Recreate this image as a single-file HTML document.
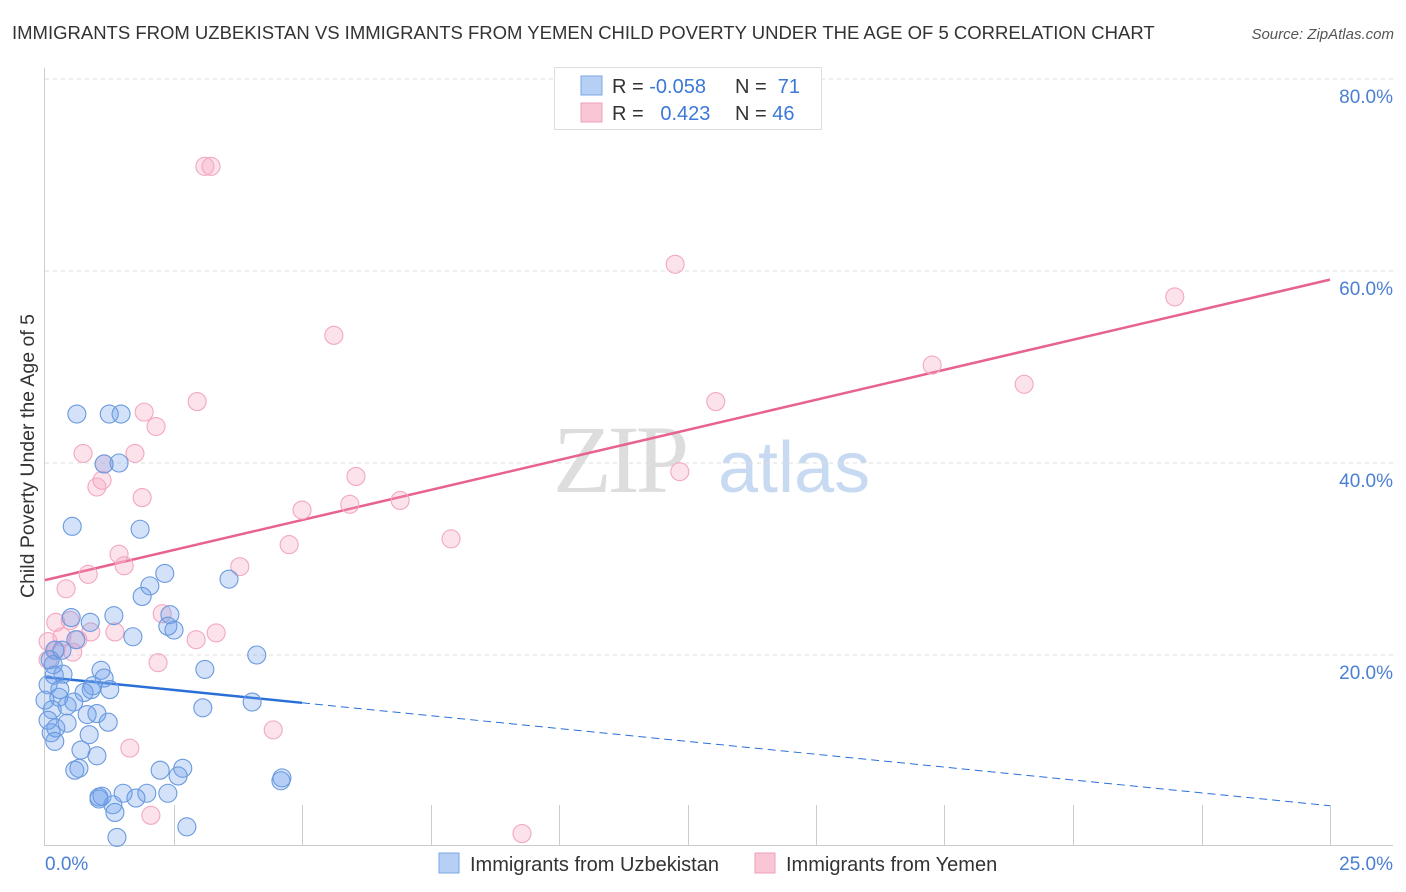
<!DOCTYPE html>
<html><head><meta charset="utf-8"><style>
body{margin:0;background:#fff;font-family:"Liberation Sans",sans-serif;}
svg{display:block}
</style></head><body>
<svg id="chart" width="1406" height="892" xmlns="http://www.w3.org/2000/svg">
<text x="12" y="39" font-size="18.5" fill="#333">IMMIGRANTS FROM UZBEKISTAN VS IMMIGRANTS FROM YEMEN CHILD POVERTY UNDER THE AGE OF 5 CORRELATION CHART</text>
<text x="1394" y="39" font-size="15" fill="#555" font-style="italic" text-anchor="end">Source: ZipAtlas.com</text>
<g>
<text x="553" y="492" font-size="96" font-family="Liberation Serif,serif" fill="#ddd" letter-spacing="-4">ZIP</text>
<text x="718" y="492" font-size="72" fill="#c8daf2">atlas</text>
</g>
<g id="grid"></g>
<g id="axes"></g>
<g id="lines"></g>
<g id="pts"></g>
<text transform="translate(34,456) rotate(-90)" font-size="19.5" fill="#333" text-anchor="middle">Child Poverty Under the Age of 5</text>
<text x="45" y="870" font-size="19" fill="#4a7fd4">0.0%</text>
<text x="1393" y="870" font-size="19" fill="#4a7fd4" text-anchor="end">25.0%</text>
<g>
<rect x="554.5" y="67.5" width="267" height="62" fill="#fff" stroke="#ddd"/>
<rect x="581" y="76" width="21" height="19" fill="#b6d0f5" stroke="#7ba6e3"/>
<rect x="581" y="103" width="21" height="19" fill="#f9c6d5" stroke="#f0a0bb"/>
<text x="612" y="93" font-size="20" fill="#333">R = <tspan fill="#3c78d8">-0.058</tspan></text>
<text x="735" y="93" font-size="20" fill="#333">N = <tspan fill="#3c78d8">&#160;71</tspan></text>
<text x="612" y="120" font-size="20" fill="#333">R = <tspan fill="#3c78d8">&#160; 0.423</tspan></text>
<text x="735" y="120" font-size="20" fill="#333">N = <tspan fill="#3c78d8">46</tspan></text>
</g>
<g>
<rect x="439" y="853" width="20" height="20" fill="#b6d0f5" stroke="#7ba6e3"/>
<text x="470" y="871" font-size="20" fill="#333">Immigrants from Uzbekistan</text>
<rect x="755" y="853" width="20" height="20" fill="#f9c6d5" stroke="#f0a0bb"/>
<text x="786" y="871" font-size="20" fill="#333">Immigrants from Yemen</text>
</g>
</svg>
<script>
const yTicks=[20,40,60,80];
const blueX=[0.62,1.25,1.48,1.15,1.44,0.53,1.85,2.33,2.04,1.89,3.58,1.34,0.51,0.88,2.43,2.39,2.51,1.71,0.60,4.12,3.11,1.09,1.15,0.16,0.18,0.35,0.06,0.93,0.90,0.76,0.27,0.56,0.43,3.07,4.03,1.01,0.82,1.23,0.43,0.21,0.12,0.86,0.19,0.70,1.01,0.58,0.66,2.24,2.68,2.59,4.61,4.59,1.52,1.98,2.39,1.05,1.11,1.05,1.77,1.32,1.36,2.76,1.40,0.14,0.29,0.06,0.19,0.10,0.33,0.0,1.26];
const blueY=[45.1,45.1,45.1,39.9,40.0,33.4,33.1,28.5,27.2,26.1,27.9,24.1,23.9,23.4,24.2,23.0,22.6,21.9,21.6,20.0,18.5,18.4,17.6,19.0,17.9,18.0,16.9,16.8,16.4,16.1,15.6,15.1,14.7,14.5,15.1,13.9,13.8,13.0,12.9,12.4,11.9,11.7,11.0,10.1,9.5,8.0,8.2,8.0,8.2,7.4,7.2,6.9,5.6,5.6,5.6,5.2,5.3,5.0,5.1,4.4,3.6,2.1,1.0,14.3,16.4,13.2,20.5,19.5,20.5,15.3,16.4];
const pinkX=[3.23,3.11,12.26,21.98,5.62,17.26,19.05,2.96,13.05,1.93,2.16,0.74,1.75,1.15,1.11,1.01,1.89,6.05,5.93,6.91,5.00,12.35,7.90,4.75,1.44,1.54,3.79,0.84,0.41,2.28,0.49,0.21,0.89,1.36,3.33,2.94,0.64,0.33,0.06,0.54,0.21,0.06,2.20,4.44,1.65,2.06,9.28];
const pinkY=[70.9,70.9,60.7,57.3,53.3,50.2,48.2,46.4,46.4,45.3,43.8,41.0,41.0,39.9,38.2,37.5,36.4,38.6,35.7,36.1,35.1,39.1,32.1,31.5,30.5,29.3,29.2,28.4,26.9,24.3,23.6,23.4,22.4,22.4,22.3,21.6,21.6,21.9,21.4,20.3,20.5,19.5,19.2,12.2,10.3,3.3,1.4];
const blueTrend=[17.7,4.3];
const pinkTrend=[27.8,59.1];
const xMax=25;
const NS="http://www.w3.org/2000/svg";
const X0=45,X1=1330,YB=847,PX=192/20;
function sx(v){return X0+v/xMax*(X1-X0);}
function sy(v){return YB-v*PX;}
function mk(t,a,p){const e=document.createElementNS(NS,t);for(const k in a)e.setAttribute(k,a[k]);p.appendChild(e);return e;}
const grid=document.getElementById('grid');
yTicks.forEach(t=>{
  const l=mk('line',{x1:45,x2:1393,y1:sy(t),y2:sy(t),stroke:'#ddd','stroke-dasharray':'4,4'},grid);
  
  
  const tx=mk('text',{x:1393,y:sy(t)+24,'font-size':19,fill:'#4a7fd4','text-anchor':'end'},grid);
  tx.textContent=t.toFixed(1)+'%';
  
  
});
const axes=document.getElementById('axes');
mk('line',{x1:44.5,x2:44.5,y1:68,y2:846,stroke:'#ccc'},axes);
mk('line',{x1:44,x2:1393,y1:845.5,y2:845.5,stroke:'#ccc'},axes);
for(let i=1;i<=10;i++){const x=Math.round(sx(i*2.5))+0.5;
  const tk=mk('line',{x1:x,x2:x,y1:805,y2:845,stroke:'#ccc'},axes);
  
  
}
const lines=document.getElementById('lines');
const pl=mk('line',{x1:sx(0),y1:sy(pinkTrend[0]),x2:sx(xMax),y2:sy(pinkTrend[1]),stroke:'#e8628e','stroke-width':2.5},lines);


const bm=blueTrend[0]+(blueTrend[1]-blueTrend[0])*0.2;
const bl=mk('line',{x1:sx(0),y1:sy(blueTrend[0]),x2:sx(5),y2:sy(bm),stroke:'#2a6fd6','stroke-width':2.5},lines);


const bd=mk('line',{x1:sx(5),y1:sy(bm),x2:sx(xMax),y2:sy(blueTrend[1]),stroke:'#2a6fd6','stroke-width':1,'stroke-dasharray':'8,5'},lines);


const pts=document.getElementById('pts');
pinkX.forEach((x,i)=>{const c=mk('circle',{cx:sx(x),cy:sy(pinkY[i]),r:9,fill:'rgba(244,160,188,0.3)',stroke:'#f2a8c0','stroke-width':1.1},pts);
  
  });
blueX.forEach((x,i)=>{const c=mk('circle',{cx:sx(x),cy:sy(blueY[i]),r:9,fill:'rgba(110,160,235,0.3)',stroke:'#6a9ade','stroke-width':1.1},pts);
  
  });
</script>
</body></html>
